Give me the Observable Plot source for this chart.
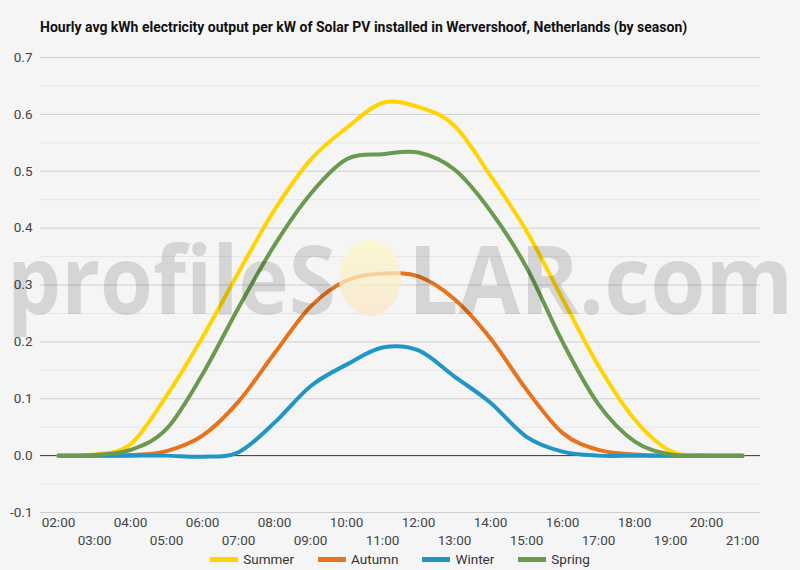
<!DOCTYPE html>
<html>
<head>
<meta charset="utf-8">
<script src="https://cdn.jsdelivr.net/npm/d3@7"></script>
<script src="https://cdn.jsdelivr.net/npm/@observablehq/plot@0.6"></script>
<style>
  body { margin: 0; background: #f5f5f5; }
  #wrap { position: relative; width: 800px; height: 570px; background: #f5f5f5; font-family: Roboto, sans-serif; overflow: hidden; }
  #title { position: absolute; left: 40px; top: 19px; font-size: 14px; font-weight: bold; color: #111; white-space: nowrap; }
  #chart { position: absolute; left: 0; top: 45px; }
  #legend { position: absolute; top: 551px; left: 0; width: 800px; height: 16px; display: flex; justify-content: center; gap: 24px; font-size: 13.5px; color: #333; }
  .item { display: flex; align-items: center; gap: 5px; }
  .sw { width: 28px; height: 5px; }
  #wm { position: absolute; left: 0; top: 0; pointer-events: none; }
</style>
</head>
<body>
<div id="wrap">
  <div id="title">Hourly avg kWh electricity output per kW of Solar PV installed in Wervershoof, Netherlands (by season)</div>
  <div id="chart"></div>
  <div id="legend"></div>
  <svg id="wm" width="800" height="570">
    <defs>
      <linearGradient id="sun" x1="0" y1="0" x2="0" y2="1">
        <stop offset="0" stop-color="#fcf8c8"/>
        <stop offset="1" stop-color="#fbe5c6"/>
      </linearGradient>
    </defs>
    <text x="7" y="314" font-family="Open Sans" font-weight="700" font-size="95" fill="rgba(0,0,0,0.13)" textLength="329" lengthAdjust="spacingAndGlyphs">profileS</text>
    <ellipse cx="370" cy="278" rx="31" ry="38" fill="url(#sun)" opacity="0.75"/>
    <text x="408" y="314" font-family="Open Sans" font-weight="700" font-size="95" fill="rgba(0,0,0,0.13)" textLength="385" lengthAdjust="spacingAndGlyphs">LAR.com</text>
  </svg>
</div>
<script>
const hours = ["02:00","03:00","04:00","05:00","06:00","07:00","08:00","09:00","10:00","11:00",
               "12:00","13:00","14:00","15:00","16:00","17:00","18:00","19:00","20:00","21:00"];
const summer = [0, 0.002, 0.02, 0.105, 0.208, 0.322, 0.432, 0.52, 0.576, 0.62, 0.613, 0.58, 0.492, 0.395, 0.276, 0.158, 0.064, 0.008, 0, 0];
const autumn = [0, 0, 0.001, 0.008, 0.035, 0.095, 0.18, 0.262, 0.308, 0.32, 0.315, 0.275, 0.206, 0.116, 0.04, 0.01, 0.002, 0, 0, 0];
const winter = [0, 0, 0, 0, -0.002, 0.006, 0.058, 0.122, 0.16, 0.19, 0.185, 0.139, 0.093, 0.033, 0.007, 0, 0, 0, 0, 0];
const spring = [0, 0.001, 0.01, 0.047, 0.143, 0.26, 0.37, 0.46, 0.521, 0.53, 0.533, 0.503, 0.43, 0.331, 0.2, 0.09, 0.025, 0.002, 0, 0];
const seasons = ["Summer", "Autumn", "Winter", "Spring"];
const colors = ["#ffd400", "#e8731e", "#2196c6", "#6a9a4f"];
const yTicks = [-0.1, 0, 0.1, 0.2, 0.3, 0.4, 0.5, 0.6, 0.7];
const yMinor = [-0.05, 0.05, 0.15, 0.25, 0.35, 0.45, 0.55, 0.65];

const series = [summer, autumn, winter, spring];
const data = seasons.flatMap((s, k) => hours.map((h, i) => ({hour: h, value: series[k][i], season: s})));
const evenHours = hours.filter((h, i) => i % 2 === 0);
const oddHours = hours.filter((h, i) => i % 2 === 1);

const chart = Plot.plot({
  width: 800,
  height: 505,
  marginTop: 12,
  marginBottom: 38,
  marginLeft: 40,
  marginRight: 40,
  style: {background: "transparent", fontFamily: "Roboto, sans-serif", fontSize: "13.5px", color: "#444"},
  x: {type: "point", domain: hours, padding: 0.5, axis: null, label: null},
  y: {domain: [-0.1, 0.7], axis: null, label: null},
  color: {domain: seasons, range: colors},
  marks: [
    Plot.ruleY(yMinor, {stroke: "#e6e6e6", strokeWidth: 1}),
    Plot.ruleY(yTicks.filter(d => d !== 0), {stroke: "#cfcfcf", strokeWidth: 1}),
    Plot.ruleY([0], {stroke: "#333", strokeWidth: 1}),
    Plot.axisY({ticks: yTicks, tickFormat: d => d.toFixed(1), tickSize: 0, tickPadding: 8, label: null}),
    Plot.axisX({ticks: evenHours, tickSize: 0, tickPadding: 5, label: null}),
    Plot.axisX({ticks: oddHours, tickSize: 0, tickPadding: 23, label: null}),
    Plot.line(data, {x: "hour", y: "value", z: "season", stroke: "season", strokeWidth: 4, curve: "cardinal", tension: 0})
  ]
});
document.getElementById("chart").appendChild(chart);

const legend = document.getElementById("legend");
seasons.forEach((s, k) => {
  const it = document.createElement("div");
  it.className = "item";
  const sw = document.createElement("div");
  sw.className = "sw";
  sw.style.background = colors[k];
  const t = document.createElement("span");
  t.textContent = s;
  it.appendChild(sw);
  it.appendChild(t);
  legend.appendChild(it);
});
</script>
</body>
</html>
